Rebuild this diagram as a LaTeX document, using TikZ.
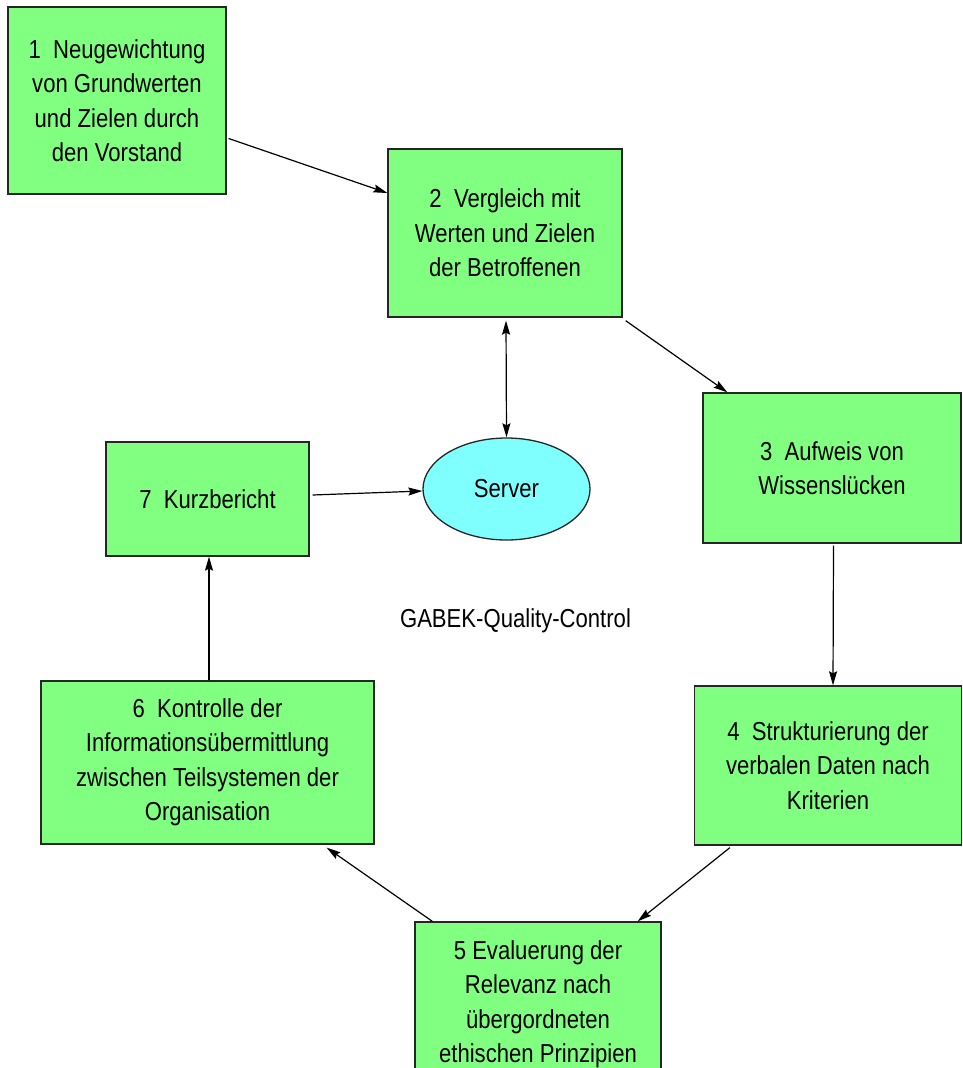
\documentclass[tikz,border=0pt]{standalone}
\usepackage{fontspec}
\setmainfont{Liberation Sans}[FakeStretch=0.85]
\usetikzlibrary{arrows.meta,shapes.geometric}
\definecolor{boxgreen}{HTML}{80FF80}
\definecolor{servercyan}{HTML}{80FFFF}
\begin{document}
\begin{tikzpicture}[x=1pt,y=-1pt,
  txt/.style={font=\fontsize{26}{34.5}\selectfont},
  stepbox/.style={txt, draw=black!85, line width=1.3pt, fill=boxgreen,
    align=center, inner sep=0pt},
  serverbox/.style={txt, ellipse, draw=black!85, line width=1.3pt,
    fill=servercyan, inner sep=0pt, minimum width=167pt, minimum height=102pt},
  flow/.style={line width=1.2pt, -{Stealth[length=14pt,width=8pt,inset=2pt]}},
  both/.style={line width=1.2pt, {Stealth[length=14pt,width=8pt,inset=2pt]}-{Stealth[length=14pt,width=8pt,inset=2pt]}}]
\useasboundingbox (0,0) rectangle (962,1068);
\clip (0,0) rectangle (962,1068);

% process steps
\node[stepbox, minimum width=218pt, minimum height=187pt] (b1) at (117,100.5)
  {1\ \ Neugewichtung\\von Grundwerten\\und Zielen durch\\den Vorstand};
\node[stepbox, minimum width=234pt, minimum height=168pt] (b2) at (505,233)
  {2\ \ Vergleich mit\\Werten und Zielen\\der Betroffenen};
\node[stepbox, minimum width=258pt, minimum height=150pt] (b3) at (832,468)
  {3\ \ Aufweis von\\Wissenslücken};
\node[stepbox, minimum width=267pt, minimum height=159pt] (b4) at (828,765.5)
  {4\ \ Strukturierung der\\verbalen Daten nach\\Kriterien};
\node[stepbox, minimum width=246pt, minimum height=165pt] (b5) at (538,1004.5)
  {5 Evaluerung der\\Relevanz nach\\übergordneten\\ethischen Prinzipien};
\node[stepbox, minimum width=333pt, minimum height=163pt] (b6) at (207.5,762.5)
  {6\ \ Kontrolle der\\Informationsübermittlung\\zwischen Teilsystemen der\\Organisation};
\node[stepbox, minimum width=203pt, minimum height=114pt] (b7) at (207.5,499)
  {7\ \ Kurzbericht};

% central server
\node[serverbox] (srv) at (506.5,489) {Server};

% title
\node[txt] (title) at (515.5,621) {GABEK-Quality-Control};

% connectors (y grows downwards here)
\draw[flow] ([shift={(2,38)}]b1.east) -- ([shift={(0,-40)}]b2.west);
\draw[flow] ([shift={(3,3)}]b2.south east) -- ([shift={(25,0)}]b3.north west);
\draw[both] ([shift={(1,3)}]b2.south) -- (srv.north);
\draw[flow] ([shift={(3,-4)}]b7.east) -- ([shift={(0,2)}]srv.west);
\draw[flow] ([shift={(1.5,2)}]b3.south) -- ([shift={(5,0)}]b4.north);
\draw[flow] ([shift={(36,2)}]b4.south west) -- ([shift={(-24,0)}]b5.north east);
\draw[flow] ([shift={(18,0)}]b5.north west) -- ([shift={(-48,3)}]b6.south east);
\draw[flow] ([shift={(1.5,0)}]b6.north) -- ([shift={(1.5,0)}]b7.south);
\end{tikzpicture}
\end{document}
